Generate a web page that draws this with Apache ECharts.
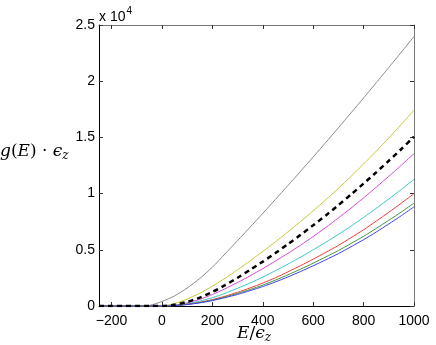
<!DOCTYPE html>
<html>
<head>
<meta charset="utf-8">
<script src="https://cdn.jsdelivr.net/npm/echarts@6/dist/echarts.min.js"></script>
<style>
html,body{margin:0;padding:0;background:#fff}
#chart{width:436px;height:345px}
</style>
</head>
<body>
<div id="chart"></div>
<script>
// E / eps_z
const energy = [-250,-200,-150,-100,-50,0,50,100,150,200,250,300,350,400,450,500,550,600,650,700,750,800,850,900,950,1000]
// g(E)*eps_z in units of 1e4
const gGray    = [0,0,0,0,0.005,0.04,0.09,0.16,0.245,0.345,0.463,0.582,0.702,0.824,0.948,1.073,1.199,1.326,1.455,1.586,1.718,1.851,1.986,2.122,2.259,2.398]
const gYellow  = [0,0,0,0,0,0,0.022,0.062,0.114,0.176,0.246,0.322,0.402,0.485,0.571,0.66,0.752,0.847,0.945,1.047,1.153,1.263,1.377,1.495,1.617,1.743]
const gDashed  = [0,0,0,0,0,0,0.011,0.037,0.075,0.125,0.185,0.251,0.322,0.395,0.471,0.551,0.633,0.718,0.806,0.897,0.992,1.089,1.189,1.292,1.397,1.506]
const gMagenta = [0,0,0,0,0,0,0.008,0.028,0.059,0.102,0.153,0.209,0.269,0.332,0.40,0.469,0.541,0.618,0.699,0.783,0.871,0.962,1.057,1.154,1.253,1.356]
const gCyan    = [0,0,0,0,0,0,0.006,0.021,0.043,0.074,0.113,0.158,0.205,0.257,0.314,0.373,0.435,0.50,0.567,0.637,0.71,0.788,0.869,0.952,1.038,1.126]
const gRed     = [0,0,0,0,0,0,0.004,0.016,0.033,0.057,0.087,0.122,0.161,0.204,0.251,0.304,0.359,0.417,0.477,0.539,0.608,0.678,0.755,0.834,0.915,1.0]
const gGreen   = [0,0,0,0,0,0,0.004,0.014,0.030,0.052,0.080,0.112,0.147,0.186,0.230,0.278,0.328,0.381,0.437,0.493,0.556,0.620,0.690,0.763,0.837,0.915]
const gBlue    = [0,0,0,0,0,0,0.003,0.013,0.028,0.048,0.074,0.103,0.137,0.173,0.214,0.259,0.307,0.358,0.411,0.466,0.527,0.590,0.658,0.730,0.804,0.882]

const xTicks = [-200,0,200,400,600,800,1000]

const pairs = arr => energy.map((e, i) => [e, arr[i]])

function line(data, color, width, dash) {
    return {
        type: 'line',
        data: pairs(data),
        xAxisIndex: 0,
        yAxisIndex: 0,
        showSymbol: false,
        smooth: 0.2,
        lineStyle: {color: color, width: width, type: dash || 'solid'},
        z: dash ? 3 : 2
    }
}

const myChart = echarts.init(document.getElementById('chart'))
const sans = 'Liberation Sans, Arial, Helvetica, sans-serif'
const serif = 'DejaVu Serif, Liberation Serif, serif'

const tickStyle = {show: true, inside: true, length: 4, lineStyle: {color: '#333'}}

myChart.setOption({
    animation: false,
    grid: {left: 99, right: 22, top: 25, bottom: 39},
    xAxis: [{
        type: 'value', min: -250, max: 1000,
        axisLine: {onZero: false, lineStyle: {color: '#000'}},
        axisTick: Object.assign({customValues: xTicks}, tickStyle),
        axisLabel: {
            customValues: xTicks, color: '#000', fontSize: 14, fontFamily: sans, margin: 8,
            formatter: v => v < 0 ? '\u2212' + (-v) : String(v)
        },
        splitLine: {show: false}
    }, {
        type: 'value', min: -250, max: 1000, position: 'top',
        axisLine: {show: true, onZero: false, lineStyle: {color: '#777'}},
        axisTick: Object.assign({customValues: xTicks}, tickStyle),
        axisLabel: {show: false},
        splitLine: {show: false}
    }],
    yAxis: [{
        type: 'value', min: 0, max: 2.5, interval: 0.5,
        axisLine: {show: true, onZero: false, lineStyle: {color: '#000'}},
        axisTick: tickStyle,
        axisLabel: {color: '#000', fontSize: 14, fontFamily: sans, margin: 4, formatter: v => String(v)},
        splitLine: {show: false}
    }, {
        type: 'value', min: 0, max: 2.5, interval: 0.5, position: 'right',
        axisLine: {show: true, onZero: false, lineStyle: {color: '#777'}},
        axisTick: tickStyle,
        axisLabel: {show: false},
        splitLine: {show: false}
    }],
    series: [
        line(gGray, '#8a8a8a', 1),
        line(gYellow, '#c8c83a', 1),
        line(gMagenta, '#d84ad8', 1),
        line(gCyan, '#38c8c8', 1),
        line(gRed, '#f03a3a', 1),
        line(gGreen, '#3c9a3c', 1),
        line(gBlue, '#4040f0', 1),
        line(gDashed, '#000', 2.5, [5, 4])
    ],
    graphic: [{
        type: 'text', left: 99, top: 6,
        style: {
            text: '{a|x 10}{b|4}',
            rich: {
                a: {fontSize: 14, fontFamily: sans, fill: '#000', verticalAlign: 'bottom'},
                b: {fontSize: 10, fontFamily: sans, fill: '#000', verticalAlign: 'top', padding: [0, 0, 8, 1]}
            }
        }
    }, {
        type: 'text', left: 0, top: 143,
        style: {
            text: '{i|g}{r|(}{i|E}{r|) · }{i|ϵ}{s|z}',
            rich: {
                i: {fontSize: 17, fontFamily: serif, fontStyle: 'italic', fill: '#000'},
                r: {fontSize: 17, fontFamily: serif, fill: '#000'},
                s: {fontSize: 12, fontFamily: serif, fontStyle: 'italic', fill: '#000', padding: [8, 0, 0, 0]}
            }
        }
    }, {
        type: 'text', left: 237, top: 325,
        style: {
            text: '{i|E}{r|/}{i|ϵ}{s|z}',
            rich: {
                i: {fontSize: 17, fontFamily: serif, fontStyle: 'italic', fill: '#000'},
                r: {fontSize: 17, fontFamily: serif, fill: '#000'},
                s: {fontSize: 12, fontFamily: serif, fontStyle: 'italic', fill: '#000', padding: [8, 0, 0, 0]}
            }
        }
    }]
})
window.addEventListener('resize', () => myChart.resize())
</script>
</body>
</html>
